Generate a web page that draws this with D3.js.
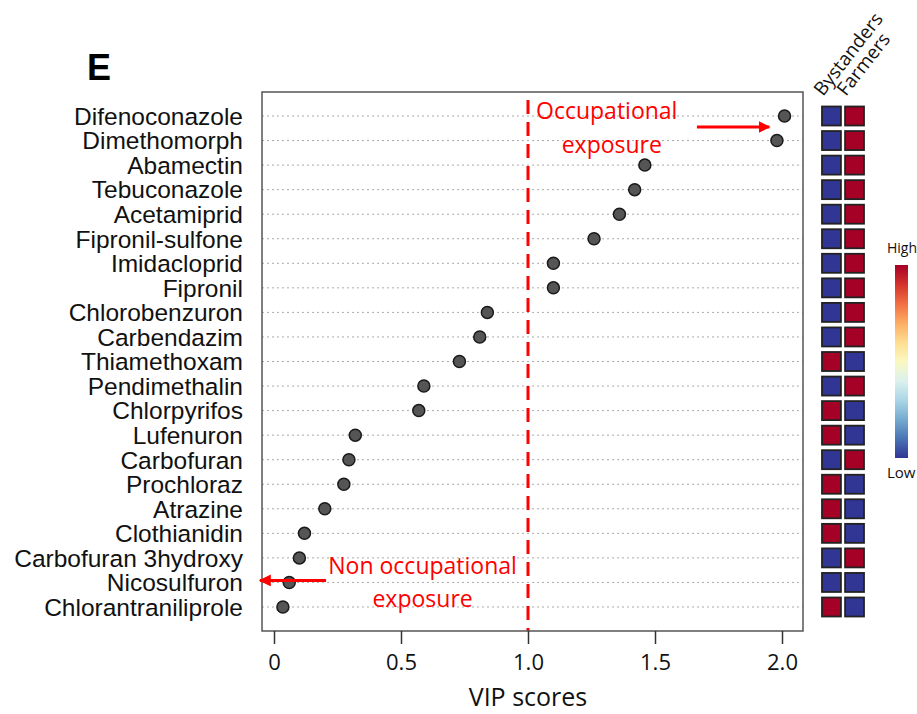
<!DOCTYPE html>
<html>
<head>
<meta charset="utf-8">
<script src="https://cdn.jsdelivr.net/npm/d3@7"></script>
<style>
  body { margin: 0; background: #fff; }
  svg { font-family: "Liberation Sans", Arial, sans-serif; }
</style>
</head>
<body>
<svg id="chart" width="917" height="714"></svg>
<script>
// compounds, top to bottom
var compounds = ["Difenoconazole", "Dimethomorph", "Abamectin", "Tebuconazole", "Acetamiprid",
  "Fipronil-sulfone", "Imidacloprid", "Fipronil", "Chlorobenzuron", "Carbendazim", "Thiamethoxam",
  "Pendimethalin", "Chlorpyrifos", "Lufenuron", "Carbofuran", "Prochloraz", "Atrazine",
  "Clothianidin", "Carbofuran 3hydroxy", "Nicosulfuron", "Chlorantraniliprole"];
var vipScores = [2.01, 1.98, 1.46, 1.42, 1.36, 1.26, 1.10, 1.10, 0.84, 0.81, 0.73,
  0.59, 0.57, 0.32, 0.295, 0.275, 0.20, 0.12, 0.10, 0.06, 0.035];
// relative level per group (1 = high, 0 = low)
var groups = ["Bystanders", "Farmers"];
var bystanders = [0, 0, 0, 0, 0, 0, 0, 0, 0, 0, 1, 0, 1, 1, 0, 1, 1, 1, 0, 0, 1];
var farmers    = [1, 1, 1, 1, 1, 1, 1, 1, 1, 1, 0, 1, 0, 0, 1, 0, 0, 0, 1, 0, 0];
var xTicks = [0, 0.5, 1.0, 1.5, 2.0];
var xTickLabels = ["0", "0.5", "1.0", "1.5", "2.0"];
var threshold = 1.0;

var svg = d3.select("#chart");
var box = { left: 262, right: 803, top: 92, bottom: 631 };

var x = d3.scaleLinear().domain([0, 2]).range([274, 782]);
var y = d3.scalePoint().domain(compounds).range([116, 607]);
var color = function (v) { return d3.interpolateRdYlBu(1 - v); };

// panel letter
svg.append("text")
  .attr("x", 87).attr("y", 80)
  .attr("font-size", 36).attr("font-weight", "bold")
  .text("E");

// dotted grid lines
svg.append("g")
  .selectAll("line")
  .data(compounds)
  .join("line")
  .attr("x1", box.left).attr("x2", box.right)
  .attr("y1", d => y(d)).attr("y2", d => y(d))
  .attr("stroke", "#aaa").attr("stroke-width", 1)
  .attr("stroke-dasharray", "2,3");

// threshold line
svg.append("line")
  .attr("x1", x(threshold)).attr("x2", x(threshold))
  .attr("y1", box.top + 8).attr("y2", box.bottom)
  .attr("stroke", "#f00").attr("stroke-width", 3)
  .attr("stroke-dasharray", "14,8");

// frame
svg.append("rect")
  .attr("x", box.left).attr("y", box.top)
  .attr("width", box.right - box.left).attr("height", box.bottom - box.top)
  .attr("fill", "none").attr("stroke", "#555").attr("stroke-width", 1.5);

// compound labels
svg.append("g")
  .selectAll("text")
  .data(compounds)
  .join("text")
  .attr("x", 243).attr("y", d => y(d))
  .attr("dy", "0.36em")
  .attr("text-anchor", "end")
  .attr("font-size", 24.5)
  .attr("fill", "#111")
  .text(d => d);

// points
svg.append("g")
  .selectAll("circle")
  .data(vipScores)
  .join("circle")
  .attr("cx", d => x(d))
  .attr("cy", (d, i) => y(compounds[i]))
  .attr("r", 6)
  .attr("fill", "#555").attr("stroke", "#1a1a1a").attr("stroke-width", 1.5);

// x axis
var xAxis = svg.append("g")
  .attr("transform", `translate(0,${box.bottom})`)
  .call(d3.axisBottom(x).tickValues(xTicks).tickSize(13).tickPadding(10)
    .tickFormat((d, i) => xTickLabels[i]));
xAxis.select(".domain").remove();
xAxis.selectAll(".tick line").attr("stroke", "#333").attr("stroke-width", 1.5);
xAxis.selectAll(".tick text").attr("font-size", 22).attr("fill", "#111")
  .attr("font-family", "'Open Sans', sans-serif");

svg.append("text")
  .attr("x", x(1)).attr("y", 706)
  .attr("text-anchor", "middle")
  .attr("font-size", 25).attr("fill", "#111")
  .attr("font-family", "'Open Sans', sans-serif")
  .text("VIP scores");

// annotations
var red = "#f00";
svg.append("defs").append("marker")
  .attr("id", "arrow").attr("viewBox", "0 0 10 10")
  .attr("refX", 9).attr("refY", 5)
  .attr("markerWidth", 4).attr("markerHeight", 4)
  .attr("markerUnits", "strokeWidth")
  .attr("orient", "auto")
  .append("path").attr("d", "M0,0 L10,5 L0,10 z").attr("fill", red);

var rowGap = y.step();
svg.append("line")
  .attr("x1", x(1.665)).attr("x2", x(1.95))
  .attr("y1", y(compounds[0]) + rowGap * 0.45).attr("y2", y(compounds[0]) + rowGap * 0.45)
  .attr("stroke", red).attr("stroke-width", 3).attr("marker-end", "url(#arrow)");
svg.append("line")
  .attr("x1", x(0.205)).attr("x2", x(-0.055))
  .attr("y1", y("Nicosulfuron") - 2).attr("y2", y("Nicosulfuron") - 2)
  .attr("stroke", red).attr("stroke-width", 3).attr("marker-end", "url(#arrow)");

var annot = svg.append("g")
  .attr("fill", red).attr("font-size", 23).attr("text-anchor", "middle")
  .attr("font-family", "'Open Sans', sans-serif");
annot.append("text").attr("x", x(1.31)).attr("y", 119).text("Occupational");
annot.append("text").attr("x", x(1.33)).attr("y", 153).text("exposure");
annot.append("text").attr("x", x(0.585)).attr("y", 574).text("Non occupational");
annot.append("text").attr("x", x(0.585)).attr("y", 607).text("exposure");

// heatmap
var colX = d3.scaleBand().domain(groups).range([822, 864]).paddingInner(0.18);
var heat = [];
compounds.forEach((c, i) => {
  heat.push({ c: c, g: "Bystanders", v: bystanders[i] });
  heat.push({ c: c, g: "Farmers", v: farmers[i] });
});
var cell = 19;
svg.append("g")
  .selectAll("rect")
  .data(heat)
  .join("rect")
  .attr("x", d => colX(d.g))
  .attr("y", d => y(d.c) - cell / 2)
  .attr("width", colX.bandwidth()).attr("height", cell)
  .attr("fill", d => color(d.v))
  .attr("stroke", "#222").attr("stroke-width", 1.8);

svg.append("g")
  .selectAll("text")
  .data(groups)
  .join("text")
  .attr("transform", d => `translate(${colX(d) + 1},${97}) rotate(-52)`)
  .attr("font-size", 19).attr("fill", "#111")
  .attr("font-family", "'Open Sans', sans-serif")
  .text(d => d);

// colour key
var grad = svg.select("defs").append("linearGradient")
  .attr("id", "key").attr("x1", 0).attr("x2", 0).attr("y1", 0).attr("y2", 1);
d3.range(0, 1.0001, 0.1).forEach(t => {
  grad.append("stop").attr("offset", t).attr("stop-color", color(1 - t));
});
svg.append("rect")
  .attr("x", 895).attr("y", 265).attr("width", 13).attr("height", 193)
  .attr("fill", "url(#key)");
svg.append("text").attr("x", 887).attr("y", 253).attr("font-size", 14)
  .attr("font-family", "'Open Sans', sans-serif").attr("fill", "#111").text("High");
svg.append("text").attr("x", 887).attr("y", 478).attr("font-size", 15)
  .attr("font-family", "'Open Sans', sans-serif").attr("fill", "#111").text("Low");
</script>
</body>
</html>
